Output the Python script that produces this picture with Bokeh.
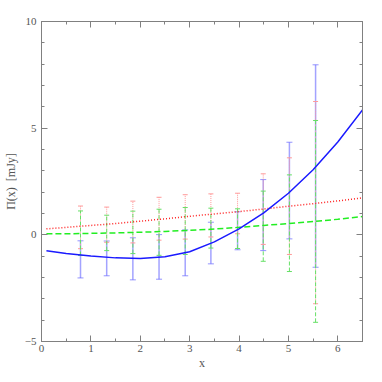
from bokeh.plotting import figure
from bokeh.models import Range1d, LinearAxis, SingleIntervalTicker
from bokeh.embed import file_html
from bokeh.resources import INLINE

# error-bar positions
bar_x = [0.79, 1.32, 1.85, 2.38, 2.91, 3.43, 3.97, 4.49, 5.02, 5.55]
blue_hi = [-0.28, -0.29, -0.14, 0.01, 0.23, 0.59, 1.08, 2.59, 4.34, 7.97]
blue_lo = [-2.02, -1.92, -2.11, -2.08, -1.92, -1.36, -0.70, -0.74, -0.19, -1.52]
green_hi = [1.12, 0.92, 1.11, 1.20, 1.28, 1.25, 1.22, 2.05, 2.81, 5.36]
green_lo = [-0.97, -0.74, -0.88, -0.96, -0.92, -0.62, -0.64, -1.24, -1.72, -4.10]
red_hi = [1.35, 1.30, 1.58, 1.76, 1.88, 1.92, 1.95, 2.86, 3.61, 6.25]
red_lo = [-0.65, -0.35, -0.38, -0.25, -0.20, -0.10, 0.05, -0.45, -0.92, -3.23]

# model curves
curve_x = [0.1, 0.5, 1.0, 1.5, 2.0, 2.5, 3.0, 3.5, 4.0, 4.5, 5.0, 5.5, 6.0, 6.5]
blue_y = [-0.75, -0.87, -0.99, -1.08, -1.11, -1.03, -0.79, -0.33, 0.28, 1.03, 1.95, 3.05, 4.35, 5.85]
red_y = [0.28, 0.35, 0.44, 0.53, 0.64, 0.75, 0.87, 0.98, 1.09, 1.21, 1.34, 1.46, 1.59, 1.73]
green_y = [0.05, 0.05, 0.07, 0.09, 0.12, 0.16, 0.21, 0.27, 0.35, 0.44, 0.53, 0.62, 0.73, 0.86]

x_ticks_interval = 1
y_ticks_interval = 5

FONT = "Liberation Serif"
GRAY = "#808080"
TEXT = "#555555"

p = figure(width=374, height=374, output_backend="svg", toolbar_location=None,
           x_range=Range1d(0, 6.5), y_range=Range1d(-5, 10),
           x_axis_label="x", y_axis_label="\u03a0(x)\u00a0\u00a0[mJy]",
           min_border_left=41, min_border_right=12, min_border_top=21, min_border_bottom=33)
p.xgrid.visible = False
p.ygrid.visible = False
p.outline_line_color = GRAY
p.background_fill_color = "white"
p.border_fill_color = "white"


def style_axis(ax, ticker, labels=True):
    ax.ticker = ticker
    ax.axis_line_color = GRAY
    ax.major_tick_line_color = GRAY
    ax.minor_tick_line_color = GRAY
    ax.major_tick_in = 6
    ax.major_tick_out = 0
    ax.minor_tick_in = 3
    ax.minor_tick_out = 0
    ax.major_label_text_font = FONT
    ax.major_label_text_font_size = "11px"
    ax.major_label_text_color = TEXT
    ax.axis_label_text_font = FONT
    ax.axis_label_text_font_size = "12px"
    ax.axis_label_text_font_style = "normal"
    ax.axis_label_text_color = TEXT
    if not labels:
        ax.major_label_text_alpha = 0
        ax.major_label_text_font_size = "1px"
        ax.major_label_standoff = 0


style_axis(p.xaxis[0], SingleIntervalTicker(interval=x_ticks_interval, num_minor_ticks=2))
style_axis(p.yaxis[0], SingleIntervalTicker(interval=y_ticks_interval, num_minor_ticks=5))
p.xaxis[0].major_label_standoff = 3
p.xaxis[0].axis_label_standoff = 1
p.yaxis[0].major_label_standoff = 5
p.yaxis[0].axis_label_standoff = 4

top = LinearAxis()
style_axis(top, SingleIntervalTicker(interval=x_ticks_interval, num_minor_ticks=2), labels=False)
right = LinearAxis()
style_axis(right, SingleIntervalTicker(interval=y_ticks_interval, num_minor_ticks=5), labels=False)
p.add_layout(top, "above")
p.add_layout(right, "right")

# error bars
p.segment(x0=bar_x, y0=blue_lo, x1=bar_x, y1=blue_hi, line_color="#6666ff", line_width=1.5, line_alpha=0.6)
p.scatter(x=bar_x + bar_x, y=blue_lo + blue_hi, marker="dash", size=6, line_color="#6666ff", line_alpha=0.7)

p.segment(x0=bar_x, y0=red_lo, x1=bar_x, y1=red_hi, line_color="#ff9999", line_width=1, line_dash="1 1")
p.scatter(x=bar_x + bar_x, y=red_lo + red_hi, marker="dash", size=5, line_color="#ff9999")

p.segment(x0=bar_x, y0=green_lo, x1=bar_x, y1=green_hi, line_color="#66e066", line_width=1, line_dash="4 2")
p.scatter(x=bar_x + bar_x, y=green_lo + green_hi, marker="dash", size=5, line_color="#66e066")

# curves
p.line(curve_x, red_y, line_color="#ff2222", line_width=1.5, line_dash="1 2")
p.line(curve_x, green_y, line_color="#22ee22", line_width=1.5, line_dash="6 3")
p.line(curve_x, blue_y, line_color="#1a1aff", line_width=1.5)

open("out.html", "w").write(file_html(p, INLINE))
